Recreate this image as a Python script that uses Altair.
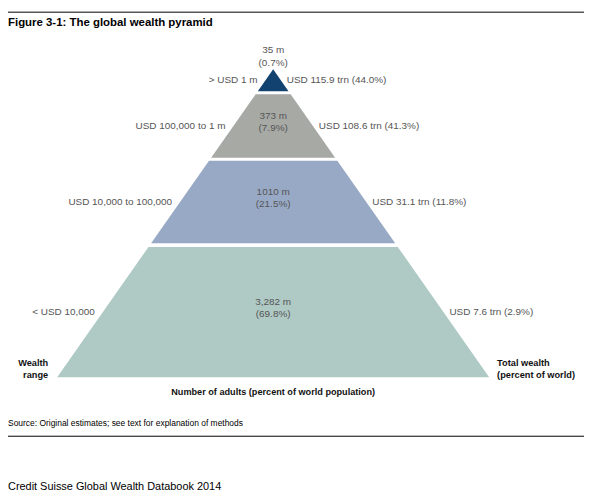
import altair as alt
import pandas as pd

FONT = "Liberation Sans"

# ---- data -------------------------------------------------------------
bands = ["top", "upper", "middle", "base"]
wealth_range = ["> USD 1 m", "USD 100,000 to 1 m", "USD 10,000 to 100,000", "< USD 10,000"]
adults = ["35 m", "373 m", "1010 m", "3,282 m"]
adults_pct = ["(0.7%)", "(7.9%)", "(21.5%)", "(69.8%)"]
total_wealth = ["USD 115.9 trn (44.0%)", "USD 108.6 trn (41.3%)",
                "USD 31.1 trn (11.8%)", "USD 7.6 trn (2.9%)"]
colors = ["#12426f", "#a7a9a5", "#98a9c5", "#afc9c4"]
# depth of each band inside the pyramid (0 = apex, 1 = base)
band_top = [0.0, 0.081, 0.297, 0.577]
band_bottom = [0.071, 0.287, 0.565, 1.0]

title_text = "Figure 3-1: The global wealth pyramid"
source_text = "Source: Original estimates; see text for explanation of methods"
footer_text = "Credit Suisse Global Wealth Databook 2014"
x_label = "Number of adults (percent of world population)"
left_axis = ["Wealth", "range"]
right_axis = ["Total wealth", "(percent of world)"]

# ---- layout -------------------------------------------------------------
W, H = 580, 488
CX, UNIT_X = 267, 217.5
APEX_Y, UNIT_Y = 60, 310
xscale = alt.Scale(domain=[-CX / UNIT_X, (W - CX) / UNIT_X], nice=False, zero=False)
yscale = alt.Scale(domain=[-APEX_Y / UNIT_Y, (H - APEX_Y) / UNIT_Y],
                   reverse=True, nice=False, zero=False)


def shift(depth, px):
    """move a label anchor by a number of pixels along the depth axis"""
    return depth + px / UNIT_Y


# ---- tables built from the arrays ---------------------------------------
area_rows = []
for b, t, bt in zip(bands, band_top, band_bottom):
    for d in (t, bt):
        area_rows.append({"band": b, "depth": d, "xl": -d, "xr": d})
area_df = pd.DataFrame(area_rows)

mids = [(t + b) / 2 for t, b in zip(band_top, band_bottom)]
side_df = pd.DataFrame({"band": bands, "mid": mids,
                        "xl": [-m for m in mids], "xr": mids,
                        "left": wealth_range, "right": total_wealth})

center_rows = []
for i, b in enumerate(bands):
    if i == 0:
        anchor, offs = 0.0, (-19, -6)
    else:
        anchor, offs = mids[i], (-10, 2)
    center_rows.append({"y": shift(anchor, offs[0]), "x": 0.0, "text": adults[i]})
    center_rows.append({"y": shift(anchor, offs[1]), "x": 0.0, "text": adults_pct[i]})
center_df = pd.DataFrame(center_rows)

corner_left = pd.DataFrame({"x": [-1.0, -1.0], "y": [shift(1.0, -14), shift(1.0, -2)],
                            "text": left_axis})
corner_right = pd.DataFrame({"x": [1.0, 1.0], "y": [shift(1.0, -14), shift(1.0, -2)],
                             "text": right_axis})
bottom_df = pd.DataFrame({"x": [0.0], "y": [shift(1.0, 15)], "text": [x_label]})

X = lambda f: alt.X(f, scale=xscale, axis=None)
Y = lambda f: alt.Y(f, scale=yscale, axis=None)

pyramid = alt.Chart(area_df).mark_area(orient="horizontal").encode(
    y=Y("depth:Q"), x=X("xl:Q"), x2="xr:Q",
    color=alt.Color("band:N", scale=alt.Scale(domain=bands, range=colors), legend=None),
)

label_style = dict(baseline="middle", fontSize=10, color="#555555", font=FONT)
left_labels = alt.Chart(side_df).mark_text(align="right", dx=-8, **label_style).encode(
    x=X("xl:Q"), y=Y("mid:Q"), text="left:N")
right_labels = alt.Chart(side_df).mark_text(align="left", dx=6, **label_style).encode(
    x=X("xr:Q"), y=Y("mid:Q"), text="right:N")
center_labels = alt.Chart(center_df).mark_text(align="center", **label_style).encode(
    x=X("x:Q"), y=Y("y:Q"), text="text:N")

bold_style = dict(baseline="middle", fontWeight="bold", color="#111111", font=FONT)
left_corner = alt.Chart(corner_left).mark_text(align="right", dx=-9, fontSize=9.3,
                                               **bold_style).encode(
    x=X("x:Q"), y=Y("y:Q"), text="text:N")
right_corner = alt.Chart(corner_right).mark_text(align="left", dx=8, fontSize=9.3,
                                                 **bold_style).encode(
    x=X("x:Q"), y=Y("y:Q"), text="text:N")
bottom_label = alt.Chart(bottom_df).mark_text(align="center", fontSize=9.2,
                                              **bold_style).encode(
    x=X("x:Q"), y=Y("y:Q"), text="text:N")

# frame annotations
anno = pd.DataFrame({"k": [0]})
top_rule = alt.Chart(anno).mark_rule(color="#000000", strokeWidth=1).encode(
    x=alt.value(0), x2=alt.value(W), y=alt.value(2.5))
bottom_rule = alt.Chart(anno).mark_rule(color="#000000", strokeWidth=1).encode(
    x=alt.value(0), x2=alt.value(W), y=alt.value(429.5))
title = alt.Chart(anno).mark_text(align="left", baseline="middle", fontSize=11.5,
                                  fontWeight="bold", color="#000000", font=FONT).encode(
    x=alt.value(0), y=alt.value(13), text=alt.value(title_text))
source = alt.Chart(anno).mark_text(align="left", baseline="middle", fontSize=8.5,
                                   color="#000000", font=FONT).encode(
    x=alt.value(0), y=alt.value(416), text=alt.value(source_text))
footer = alt.Chart(anno).mark_text(align="left", baseline="middle", fontSize=11,
                                   color="#000000", font=FONT).encode(
    x=alt.value(0), y=alt.value(481), text=alt.value(footer_text))

chart = alt.layer(
    pyramid, left_labels, right_labels, center_labels,
    left_corner, right_corner, bottom_label,
    top_rule, bottom_rule, title, source, footer,
).properties(
    width=W, height=H, padding=0,
    autosize=alt.AutoSizeParams(type="none"),
).configure_view(strokeWidth=0)

chart.save("out.html", embed_options={"renderer": "svg", "actions": False})
